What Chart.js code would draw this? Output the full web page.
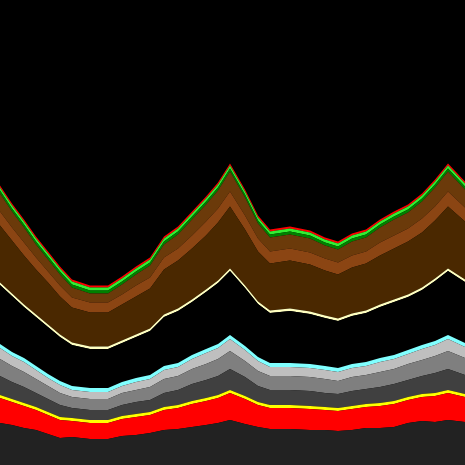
<!DOCTYPE html>
<html>
<head>
<meta charset="utf-8">
<script src="https://cdn.jsdelivr.net/npm/chart.js@4"></script>
<style>
  html, body { margin: 0; padding: 0; background: #000; }
  .chart-box { width: 465px; height: 465px; position: relative; }
</style>
</head>
<body>
<div class="chart-box"><canvas id="stack"></canvas></div>
<script>
/* stacked layers, bottom to top */

const xs = [0, 12, 24, 36, 48, 60, 72, 90, 108, 122, 136, 150, 164, 178, 192, 206, 218,
            230, 245, 258, 270, 290, 310, 325, 338, 352, 366, 380, 394, 408, 422, 435, 448, 465];

const baseDark   = [42, 40, 37, 35, 31, 27, 28, 26, 26, 29, 30, 32, 35, 36, 38, 40, 42,
                    45, 41, 38, 36, 36, 35, 35, 34, 35, 37, 37, 38, 42, 44, 43, 45, 43];
const lowRed     = [25, 23, 22, 20, 19, 18, 16, 16, 16, 17, 18, 18, 20, 21, 23, 24, 25,
                    27, 25, 22, 21, 21, 21, 20, 20, 21, 21, 22, 23, 23, 24, 26, 27, 25];
const yellow     = [3, 3, 3, 3, 3, 3, 3, 3, 3, 3, 3, 3, 3, 3, 3, 3, 3,
                    3, 3, 3, 3, 3, 3, 3, 3, 3, 3, 3, 3, 3, 3, 3, 3, 3];
const darkGrey   = [19, 17, 16, 14, 13, 12, 10, 10, 10, 11, 12, 12, 14, 15, 17, 18, 19,
                    21, 19, 16, 15, 15, 15, 14, 14, 15, 15, 16, 17, 17, 18, 20, 21, 19];
const midGrey    = [17, 16, 15, 14, 13, 12, 11, 11, 11, 12, 12, 13, 14, 14, 15, 16, 17,
                    18, 16, 15, 14, 14, 14, 14, 13, 14, 14, 15, 15, 16, 16, 17, 18, 17];
const lightGrey  = [11, 10, 10, 9, 8, 8, 7, 7, 7, 7, 8, 8, 9, 9, 10, 11, 11,
                    12, 11, 10, 9, 9, 9, 9, 9, 9, 9, 10, 10, 10, 11, 11, 12, 11];
const cyan       = [4, 4, 4, 4, 4, 4, 4, 4, 4, 4, 4, 4, 4, 4, 4, 4, 4,
                    4, 4, 4, 4, 4, 4, 4, 4, 4, 4, 4, 4, 4, 4, 4, 4, 4];
const gap        = [59, 56, 51, 49, 47, 44, 41, 39, 39, 39, 41, 44, 49, 52, 53, 57, 61,
                    64, 58, 53, 50, 52, 50, 48, 47, 48, 49, 51, 53, 53, 55, 60, 64, 61];
const cream      = [2.5, 2.5, 2.5, 2.5, 2.5, 2.5, 2.5, 2.5, 2.5, 2.5, 2.5, 2.5, 2.5, 2.5, 2.5, 2.5, 2.5,
                    2.5, 2.5, 2.5, 2.5, 2.5, 2.5, 2.5, 2.5, 2.5, 2.5, 2.5, 2.5, 2.5, 2.5, 2.5, 2.5, 2.5];
const darkBrown  = [57, 53, 49, 45, 42, 38, 35, 34, 34, 36, 38, 40, 45, 48, 51, 54, 58,
                    62, 56, 50, 47, 48, 47, 45, 44, 46, 47, 49, 51, 53, 55, 58, 62, 58];
const orange     = [14, 13, 13, 12, 11, 11, 10, 10, 10, 10, 11, 11, 12, 12, 13, 14, 14,
                    15, 14, 13, 12, 12, 12, 12, 12, 12, 12, 13, 13, 13, 14, 14, 15, 14];
const brown      = [18, 16, 15, 13, 12, 11, 10, 9, 9, 10, 11, 12, 13, 14, 16, 17, 18,
                    20, 18, 15, 14, 14, 14, 13, 13, 14, 14, 15, 16, 16, 17, 19, 20, 18];
const darkGreen  = [3, 3, 3, 3, 3, 3, 3, 3, 3, 3, 3, 3, 3, 3, 3, 3, 3,
                    3, 3, 3, 3, 3, 3, 3, 3, 3, 3, 3, 3, 3, 3, 3, 3, 3];
const lightGreen = [3, 3, 3, 3, 3, 3, 3, 3, 3, 3, 3, 3, 3, 3, 3, 3, 3,
                    3, 3, 3, 3, 3, 3, 3, 3, 3, 3, 3, 3, 3, 3, 3, 3, 3];
const topRed     = [2, 2, 2, 2, 2, 2, 2, 2, 2, 2, 2, 2, 2, 2, 2, 2, 2,
                    2, 2, 2, 2, 2, 2, 2, 2, 2, 2, 2, 2, 2, 2, 2, 2, 2];

const LAYERS = [
  [baseDark,   '#222222'],
  [lowRed,     '#ff0000'],
  [yellow,     '#ffff00'],
  [darkGrey,   '#404040'],
  [midGrey,    '#7f7f7f'],
  [lightGrey,  '#bfbfbf'],
  [cyan,       '#80ffff'],
  [gap,        '#000000'],
  [cream,      '#ffffc0'],
  [darkBrown,  '#4a2800'],
  [orange,     '#8b4513'],
  [brown,      '#6b3a0a'],
  [darkGreen,  '#008000'],
  [lightGreen, '#33ee33'],
  [topRed,     '#ff0000'],
];

new Chart(document.getElementById('stack'), {
  type: 'line',
  data: {
    datasets: LAYERS.map(([vals, col], i) => ({
      data: vals.map((v, j) => ({ x: xs[j], y: v })),
      backgroundColor: col,
      borderWidth: 0,
      pointRadius: 0,
      tension: 0,
      fill: i === 0 ? 'origin' : '-1',
    })),
  },
  options: {
    responsive: true,
    maintainAspectRatio: false,
    animation: false,
    layout: { padding: 0 },
    plugins: { legend: { display: false }, tooltip: { enabled: false } },
    scales: {
      x: { type: 'linear', min: 0, max: 465, display: false },
      y: { stacked: true, min: 0, max: 465, display: false },
    },
  },
});
</script>
</body>
</html>
